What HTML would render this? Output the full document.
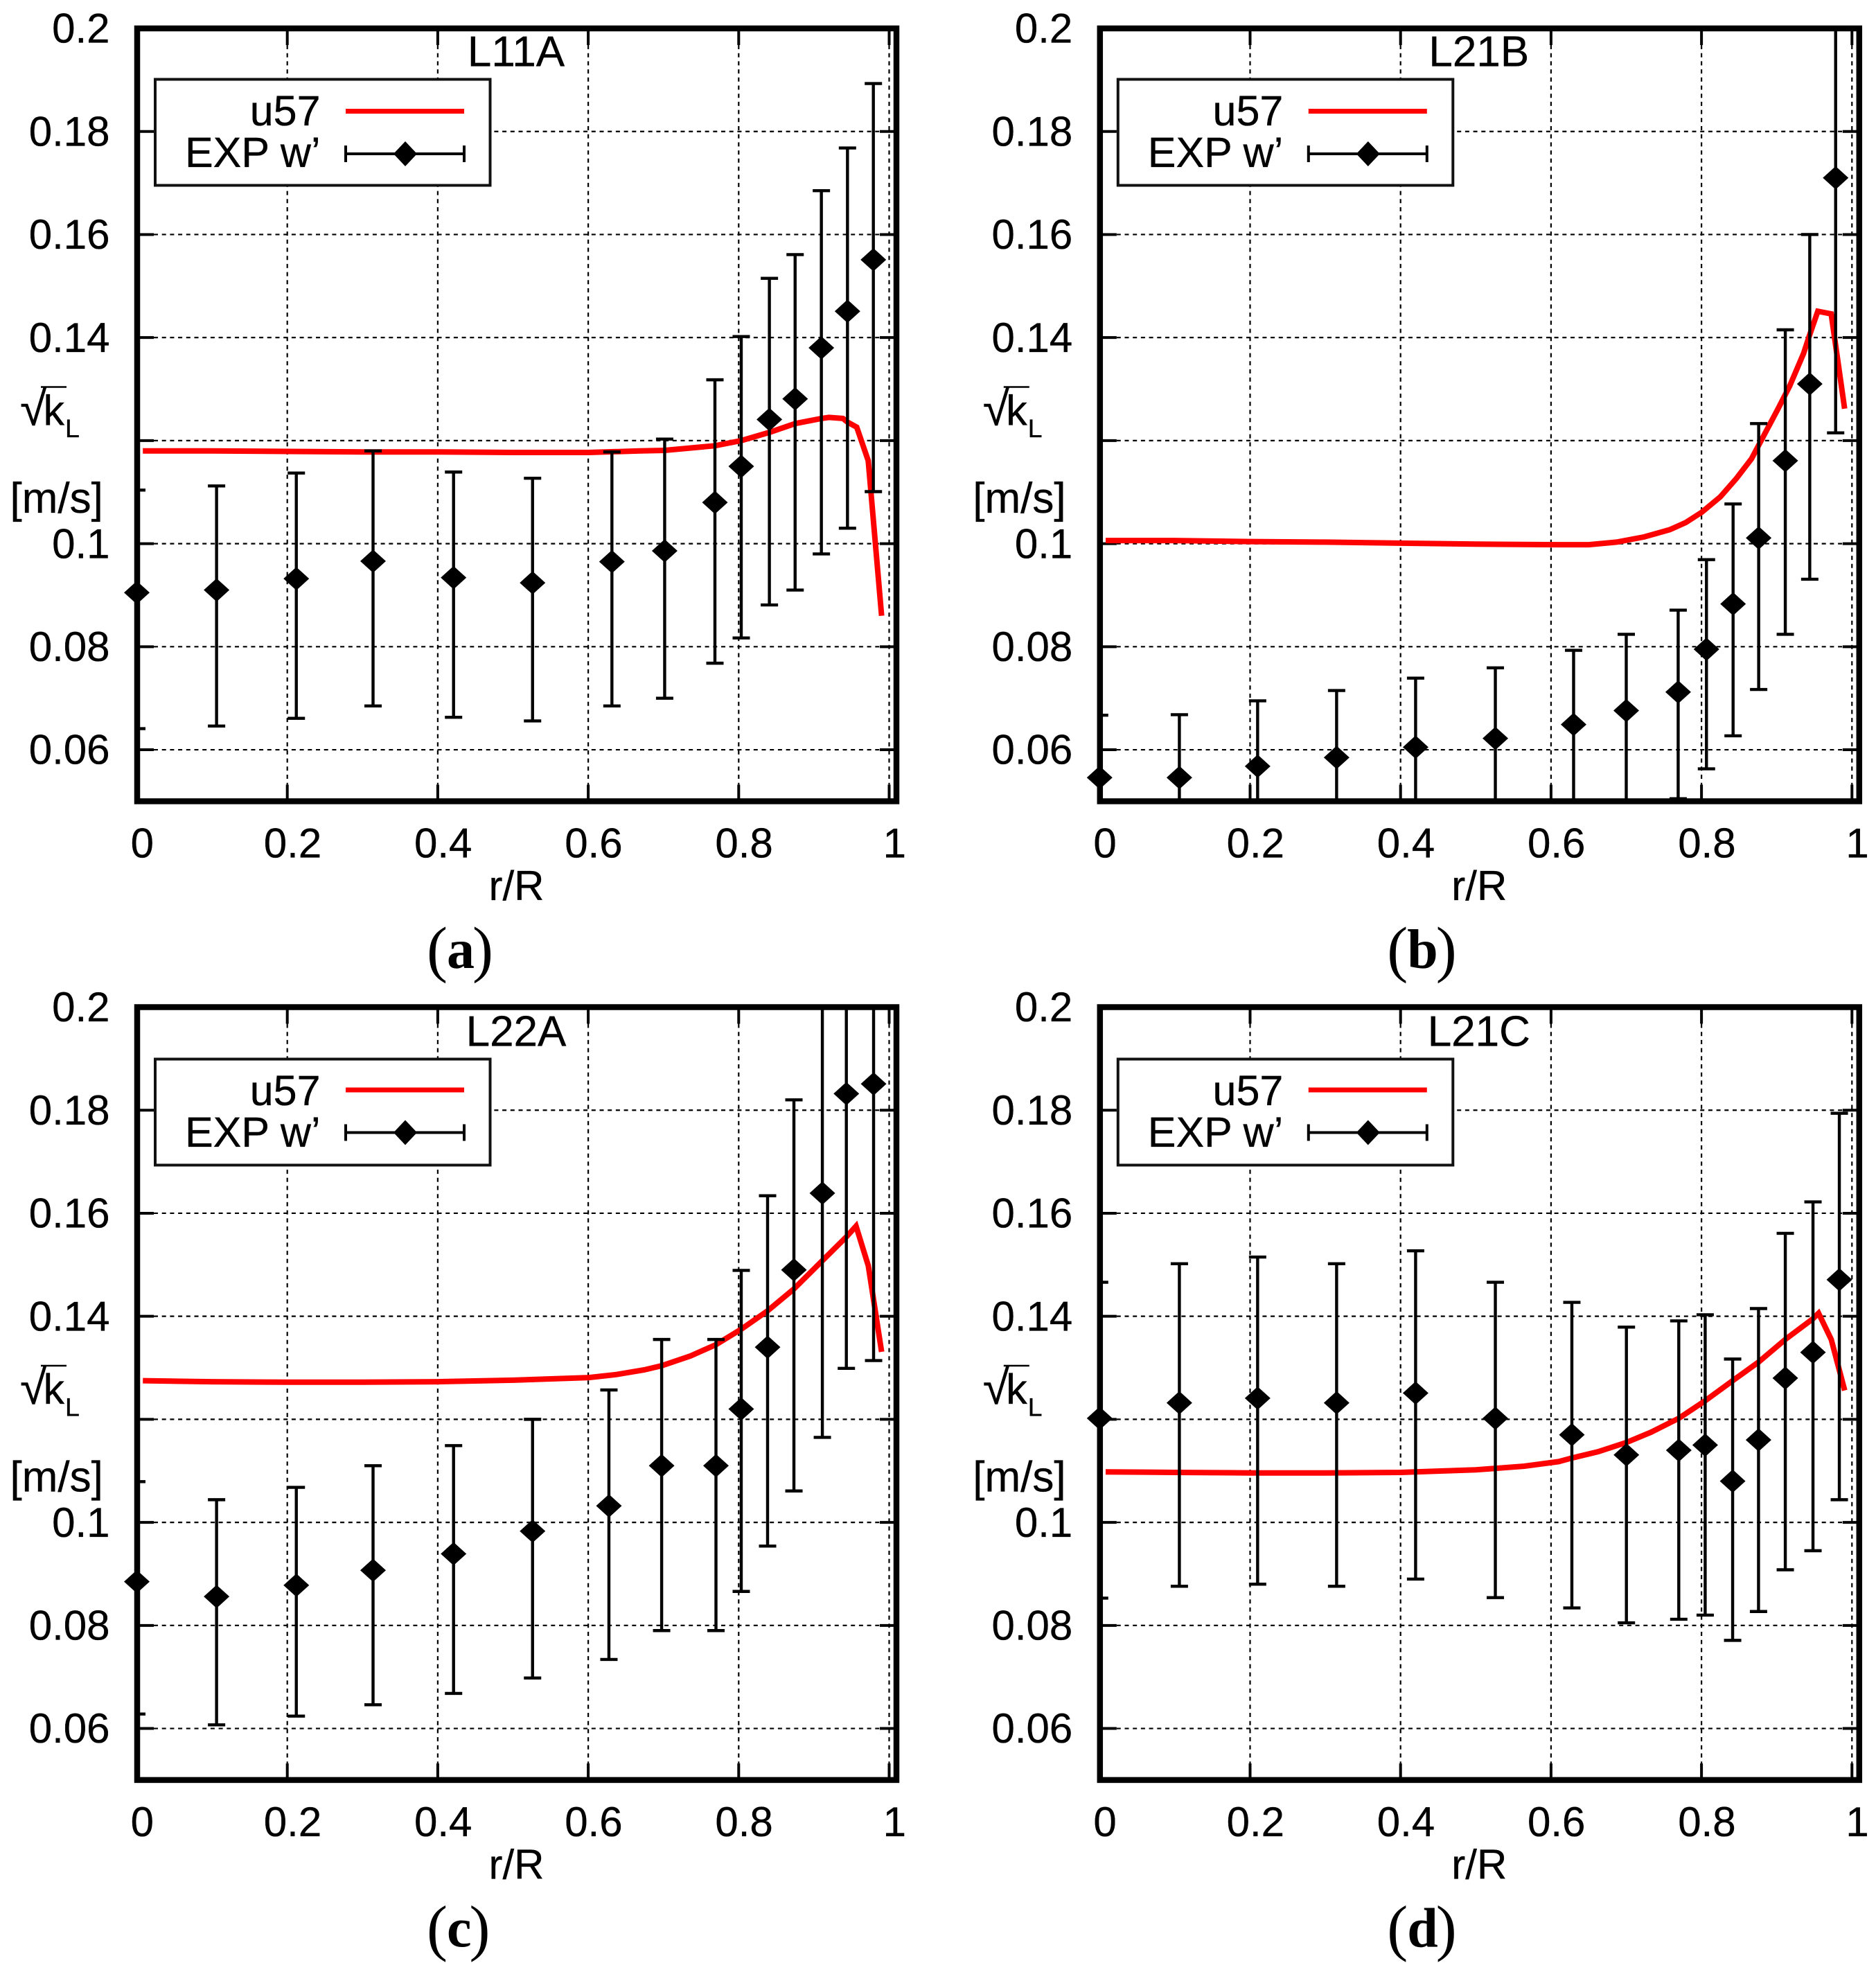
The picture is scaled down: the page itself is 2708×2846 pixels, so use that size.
<!DOCTYPE html>
<html lang="en">
<head>
<meta charset="utf-8">
<title>Turbulent velocity profiles</title>
<style>
html,body{margin:0;padding:0;background:#fff;}
svg{display:block;}
text{font-family:"Liberation Sans",sans-serif;fill:#000;stroke:#000;stroke-width:0.35px;}
text.cap{font-family:"Liberation Serif",serif;stroke-width:0;}
</style>
</head>
<body>
<svg id="figure" xmlns="http://www.w3.org/2000/svg" width="2708" height="2846" viewBox="0 0 2708 2846"></svg>
<script>
/* Shared tick values and labels */
const xTicks = [0, 0.2, 0.4, 0.6, 0.8, 1];
const xTickLabels = ["0", "0.2", "0.4", "0.6", "0.8", "1"];
const yTicks = [0.2, 0.18, 0.16, 0.14, 0.12, 0.1, 0.08, 0.06];
const yTickLabels = ["0.2", "0.18", "0.16", "0.14", "", "0.1", "0.08", "0.06"];

/* Panel (a) L11A */
const aExpR = [0, 0.106, 0.212, 0.314, 0.421, 0.526, 0.6315, 0.7016, 0.7684, 0.8034, 0.8408, 0.875, 0.9099, 0.9446, 0.979];
const aExpMean = [0.0905, 0.091, 0.0932, 0.0966, 0.0934, 0.0924, 0.0965, 0.0986, 0.108, 0.115, 0.1241, 0.1281, 0.138, 0.1451, 0.1551];
const aExpHigh = [0.1104, 0.1112, 0.1137, 0.118, 0.1139, 0.1127, 0.1178, 0.1203, 0.1318, 0.1402, 0.1515, 0.1561, 0.1685, 0.1768, 0.1893];
const aExpLow = [0.0641, 0.0646, 0.0661, 0.0685, 0.0663, 0.0656, 0.0685, 0.07, 0.0768, 0.0817, 0.0881, 0.091, 0.098, 0.103, 0.1101];
const aCurveR = [0.008, 0.1, 0.2, 0.3, 0.4, 0.5, 0.6008, 0.6684, 0.7016, 0.7684, 0.8034, 0.8408, 0.875, 0.9099, 0.9201, 0.9385, 0.9446, 0.9569, 0.9722, 0.99];
const aCurveK = [0.118, 0.118, 0.1179, 0.1178, 0.1178, 0.1177, 0.1177, 0.118, 0.1181, 0.119, 0.12, 0.1216, 0.1233, 0.1243, 0.1245, 0.1243, 0.1236, 0.1226, 0.1161, 0.086];

/* Panel (b) L21B */
const bExpR = [0, 0.106, 0.21, 0.315, 0.42, 0.526, 0.63, 0.70, 0.769, 0.8066, 0.842, 0.876, 0.9114, 0.9439, 0.9783];
const bExpMean = [0.0546, 0.0546, 0.0568, 0.0585, 0.0605, 0.0622, 0.0649, 0.0676, 0.0712, 0.0795, 0.0883, 0.1011, 0.1161, 0.131, 0.171];
const bExpHigh = [0.0667, 0.0668, 0.0695, 0.0715, 0.0739, 0.0759, 0.0793, 0.0824, 0.0871, 0.0969, 0.1077, 0.1233, 0.1415, 0.16, 0.22];
const bExpLow = [0.0424, 0.0424, 0.0441, 0.0455, 0.0471, 0.0485, 0.0495, 0.0495, 0.0505, 0.0563, 0.0627, 0.0717, 0.0824, 0.0931, 0.1215];
const bCurveR = [0.008, 0.1, 0.2, 0.3, 0.4, 0.5, 0.6102, 0.6501, 0.687, 0.7238, 0.7576, 0.7791, 0.8005, 0.8251, 0.8466, 0.8666, 0.8804, 0.9018, 0.9172, 0.9356, 0.9433, 0.9546, 0.9724, 0.9902];
const bCurveK = [0.1006, 0.1006, 0.1004, 0.1003, 0.1001, 0.0999, 0.0998, 0.0998, 0.1003, 0.1013, 0.1027, 0.1041, 0.1061, 0.1091, 0.1127, 0.1165, 0.1203, 0.1262, 0.1306, 0.1369, 0.1403, 0.1451, 0.1446, 0.1262];

/* Panel (c) L22A */
const cExpR = [0, 0.106, 0.212, 0.314, 0.421, 0.526, 0.6275, 0.6976, 0.7698, 0.8034, 0.8384, 0.8734, 0.9112, 0.9431, 0.9793];
const cExpMean = [0.0885, 0.0856, 0.0878, 0.0907, 0.0939, 0.0983, 0.1032, 0.111, 0.111, 0.122, 0.134, 0.149, 0.1639, 0.1832, 0.1851];
const cExpHigh = [0.1079, 0.1044, 0.1068, 0.111, 0.1149, 0.12, 0.1257, 0.1355, 0.1355, 0.1489, 0.1634, 0.182, 0.225, 0.235, 0.235];
const cExpLow = [0.0628, 0.0607, 0.0624, 0.0646, 0.0668, 0.0698, 0.0734, 0.079, 0.079, 0.0866, 0.0954, 0.1061, 0.1165, 0.1299, 0.1314];
const cCurveR = [0.008, 0.1, 0.2, 0.3, 0.4, 0.5, 0.6008, 0.6377, 0.6745, 0.6976, 0.736, 0.7698, 0.8034, 0.8388, 0.8734, 0.9112, 0.9431, 0.956, 0.9723, 0.99];
const cCurveK = [0.1275, 0.1273, 0.1272, 0.1272, 0.1273, 0.1276, 0.1281, 0.1287, 0.1296, 0.1304, 0.1323, 0.1345, 0.1375, 0.1411, 0.1453, 0.1508, 0.1554, 0.1575, 0.1498, 0.1331];

/* Panel (d) L21C */
const dExpR = [0, 0.106, 0.21, 0.315, 0.42, 0.526, 0.6277, 0.7002, 0.7698, 0.8049, 0.8414, 0.8758, 0.9114, 0.9482, 0.9832];
const dExpMean = [0.1202, 0.1232, 0.1241, 0.1232, 0.1251, 0.1202, 0.117, 0.1131, 0.114, 0.115, 0.108, 0.116, 0.128, 0.133, 0.1471];
const dExpHigh = [0.1466, 0.1502, 0.1515, 0.1502, 0.1527, 0.1466, 0.1427, 0.1379, 0.1391, 0.1403, 0.1317, 0.1415, 0.1561, 0.1622, 0.1794];
const dExpLow = [0.0853, 0.0876, 0.088, 0.0876, 0.089, 0.0854, 0.0834, 0.0805, 0.0812, 0.082, 0.0771, 0.0827, 0.0908, 0.0945, 0.1044];
const dCurveR = [0.008, 0.1, 0.2, 0.3, 0.4, 0.5, 0.5645, 0.6102, 0.6277, 0.6624, 0.7002, 0.733, 0.7698, 0.8049, 0.8414, 0.8758, 0.9114, 0.9479, 0.9556, 0.9725, 0.9903];
const dCurveK = [0.1098, 0.1097, 0.1096, 0.1096, 0.1097, 0.1102, 0.1109, 0.1118, 0.1125, 0.1137, 0.1155, 0.1175, 0.1202, 0.1236, 0.1275, 0.1311, 0.1355, 0.1395, 0.1406, 0.1355, 0.1256];

/* Panel descriptions */
const panelA = {id:"a", title:"L11A", col:0, row:0, r:aExpR, mean:aExpMean, high:aExpHigh, low:aExpLow, cr:aCurveR, ck:aCurveK};
const panelB = {id:"b", title:"L21B", col:1, row:0, r:bExpR, mean:bExpMean, high:bExpHigh, low:bExpLow, cr:bCurveR, ck:bCurveK};
const panelC = {id:"c", title:"L22A", col:0, row:1, r:cExpR, mean:cExpMean, high:cExpHigh, low:cExpLow, cr:cCurveR, ck:cCurveK};
const panelD = {id:"d", title:"L21C", col:1, row:1, r:dExpR, mean:dExpMean, high:dExpHigh, low:dExpLow, cr:dCurveR, ck:dCurveK};
const panels = [panelA, panelB, panelC, panelD];

const NS = "http://www.w3.org/2000/svg";
const root = document.getElementById("figure");
const COL_STEP = 1389.8, ROW_STEP = 1412.5;

function mk(tag, parent, props) {
  const n = document.createElementNS(NS, tag);
  for (const k in props) n.setAttribute(k, props[k]);
  parent.appendChild(n);
  return n;
}

function drawPanel(p) {
  const ox = p.col * COL_STEP, oy = p.row * ROW_STEP;
  const sx = v => ox + 197.5 + 1086 * v;
  const sy = v => oy + 1156.4 - (v - 0.05) * 7436;
  const left = ox + 198, right = ox + 1294, top = sy(0.2), bottom = sy(0.05);
  const labelNudge = p.row * 1.5;

  const g = mk("g", root, {});
  
  

  const clip = mk("clipPath", g, {id: "clip-" + p.id});
  mk("rect", clip, {x: left, y: top, width: right - left, height: bottom - top});

  const grid = mk("g", g, {stroke: "#000", "stroke-width": 2.2, "stroke-dasharray": "6 5.7", fill: "none"});
  
  
  xTicks.forEach(function (t) {
    if (t === 0) return;
    const gl = mk("line", grid, {x1: sx(t), x2: sx(t), y1: top + 24, y2: bottom - 24});
    
    
  });
  yTicks.forEach(function (t) {
    if (t === 0.2) return;
    const gl = mk("line", grid, {x1: left + 24, x2: right - 24, y1: sy(t), y2: sy(t)});
    
    
  });

  const ticks = mk("g", g, {stroke: "#000", "stroke-width": 4});
  
  
  xTicks.forEach(function (t, i) {
    if (t === 0) return;
    const a = mk("line", ticks, {x1: sx(t), x2: sx(t), y1: top, y2: top + 24});
    
    
    const b = mk("line", ticks, {x1: sx(t), x2: sx(t), y1: bottom, y2: bottom - 24});
    
    
  });
  yTicks.forEach(function (t) {
    if (t === 0.2) return;
    const a = mk("line", ticks, {x1: left, x2: left + 24, y1: sy(t), y2: sy(t)});
    
    
    const b = mk("line", ticks, {x1: right, x2: right - 24, y1: sy(t), y2: sy(t)});
    
    
  });

  const curve = mk("polyline", g, {
    points: p.cr.map(function (r, i) { return sx(r).toFixed(1) + "," + sy(p.ck[i]).toFixed(1); }).join(" "),
    fill: "none", stroke: "#ff0000", "stroke-width": 8, "stroke-linejoin": "miter",
    "clip-path": "url(#clip-" + p.id + ")"
  });
  
  

  const bars = mk("g", g, {stroke: "#000", "stroke-width": 4.4, "clip-path": "url(#clip-" + p.id + ")"});
  
  
  p.r.forEach(function (r, i) {
    const x = sx(r), hi = sy(p.high[i]), lo = sy(p.low[i]);
    const stem = mk("line", bars, {x1: x, x2: x, y1: hi, y2: lo});
    
    
    const c1 = mk("line", bars, {x1: x - 12.5, x2: x + 12.5, y1: hi, y2: hi});
    
    
    const c2 = mk("line", bars, {x1: x - 12.5, x2: x + 12.5, y1: lo, y2: lo});
    
    
  });

  const frame = mk("rect", g, {x: left, y: top, width: right - left, height: bottom - top, fill: "none", stroke: "#000", "stroke-width": 8.5});
  
  

  const pts = mk("g", g, {fill: "#000"});
  
  
  p.r.forEach(function (r, i) {
    const x = sx(r), y = sy(p.mean[i]);
    const d = mk("polygon", pts, {points: (x - 18.5) + "," + y + " " + x + "," + (y - 16.8) + " " + (x + 18.5) + "," + y + " " + x + "," + (y + 16.8)});
    
    
  });

  yTicks.forEach(function (t, i) {
    if (!yTickLabels[i]) return;
    const l = mk("text", g, {x: ox + 158.5, y: sy(t) + 20.7, "text-anchor": "end", "font-size": 60});
    l.textContent = yTickLabels[i];
    
    
  });
  xTicks.forEach(function (t, i) {
    const l = mk("text", g, {x: sx(t) + 7.8, y: oy + 1237.5, "text-anchor": "middle", "font-size": 60});
    l.textContent = xTickLabels[i];
    
    
  });

  const xTitle = mk("text", g, {x: ox + 745.5, y: oy + 1299, "text-anchor": "middle", "font-size": 60});
  xTitle.textContent = "r/R";
  
  

  const title = mk("text", g, {x: ox + 745, y: oy + 95.5 + labelNudge, "text-anchor": "middle", "font-size": 62});
  title.textContent = p.title;
  
  

  /* y axis title */
  const rad = mk("text", g, {x: ox + 29, y: oy + 613.5, "font-size": 70});
  rad.textContent = "\u221A";
  
  
  const vin = mk("line", g, {x1: ox + 59, x2: ox + 96, y1: oy + 558.5, y2: oy + 558.5, stroke: "#000", "stroke-width": 2.5});
  
  
  const k = mk("text", g, {x: ox + 62.5, y: oy + 613.5, "font-size": 61});
  k.textContent = "k";
  
  
  const sub = mk("text", g, {x: ox + 94, y: oy + 631, "font-size": 37.5});
  sub.textContent = "L";
  
  
  const unit = mk("text", g, {x: ox + 14.5, y: oy + 740, "font-size": 62});
  unit.textContent = "[m/s]";
  
  

  /* legend */
  const leg = mk("g", g, {});
  
  
  const box = mk("rect", leg, {x: ox + 224, y: oy + 114.5 + labelNudge, width: 483.5, height: 153, fill: "#fff", stroke: "#111", "stroke-width": 4});
  
  
  const l1 = mk("text", leg, {x: ox + 462.5, y: oy + 181 + labelNudge, "text-anchor": "end", "font-size": 61});
  l1.textContent = "u57";
  
  
  const l2 = mk("text", leg, {x: ox + 462.5, y: oy + 241 + labelNudge, "text-anchor": "end", "font-size": 61});
  l2.textContent = "EXP w\u2019";
  
  
  const s1 = mk("line", leg, {x1: ox + 499, x2: ox + 670, y1: oy + 160.5, y2: oy + 160.5, stroke: "#ff0000", "stroke-width": 7});
  
  
  const s2 = mk("path", leg, {d: "M" + (ox + 499) + " " + (oy + 222) + "H" + (ox + 670) + "M" + (ox + 499) + " " + (oy + 210) + "V" + (oy + 234) + "M" + (ox + 670) + " " + (oy + 210) + "V" + (oy + 234), stroke: "#000", "stroke-width": 4, fill: "none"});
  
  
  const cx = ox + 585, cy = oy + 222;
  const s3 = mk("polygon", leg, {points: (cx - 17) + "," + cy + " " + cx + "," + (cy - 18) + " " + (cx + 17) + "," + cy + " " + cx + "," + (cy + 18), fill: "#000"});
  
  

  /* sub-caption */
  const capt = mk("text", g, {x: ox + 616 - p.col * 3.5, y: oy + 1400, "font-size": 90, "class": "cap"});
  
  
  capt.appendChild(document.createTextNode("("));
  const bold = mk("tspan", capt, {"font-weight": "bold", "font-size": 80, dy: -3, dx: -1});
  bold.textContent = p.id;
  
  
  const closeParen = mk("tspan", capt, {dy: 3, dx: -3});
  closeParen.textContent = ")";
  
  
}

panels.forEach(drawPanel);
</script>
</body>
</html>
